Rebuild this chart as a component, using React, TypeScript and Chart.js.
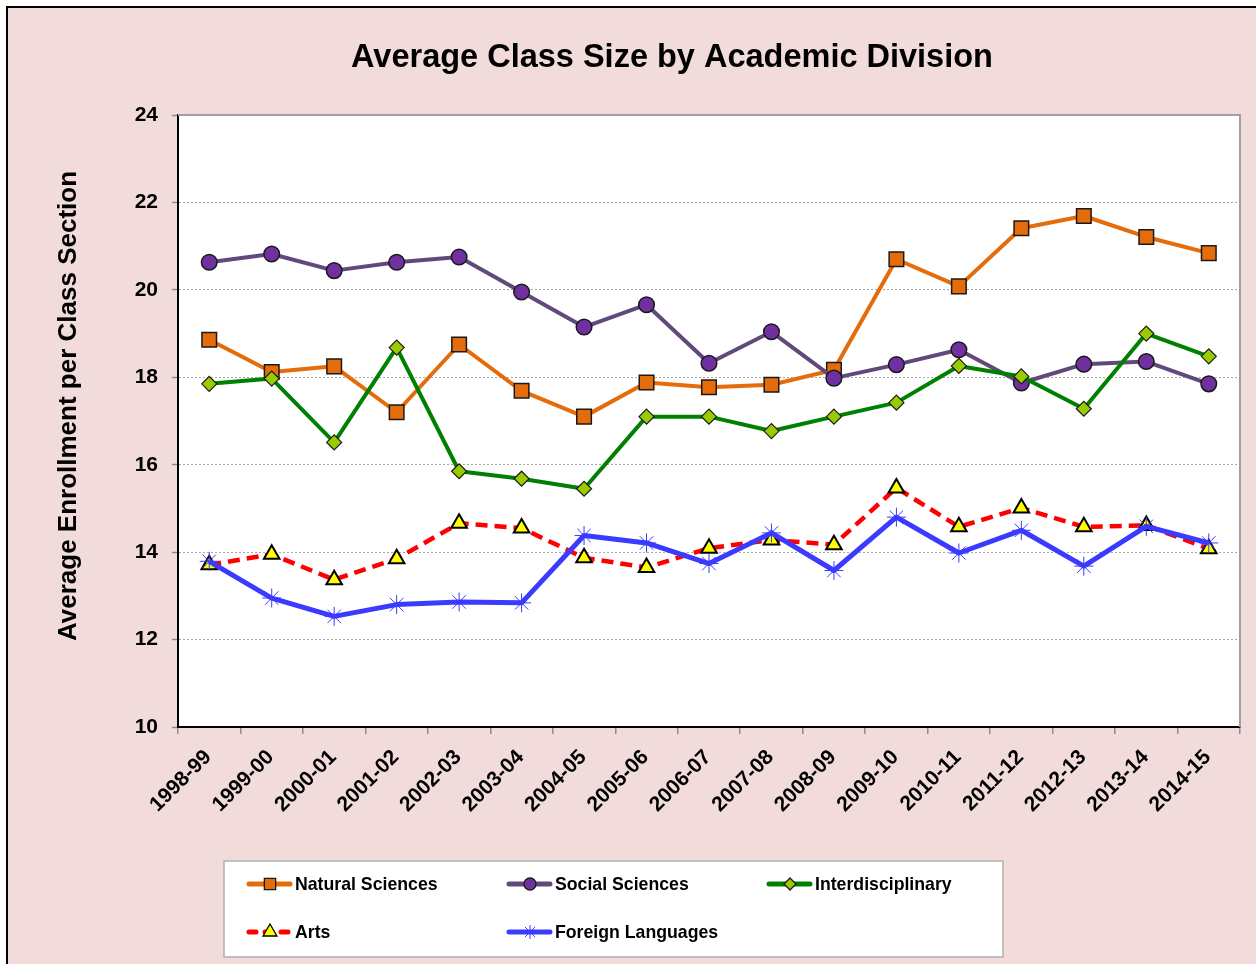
import React, { useEffect, useRef } from 'react';
import { Chart, registerables } from 'chart.js';

Chart.register(...registerables);

const categories = [
  '1998-99', '1999-00', '2000-01', '2001-02', '2002-03', '2003-04', '2004-05', '2005-06', '2006-07',
  '2007-08', '2008-09', '2009-10', '2010-11', '2011-12', '2012-13', '2013-14', '2014-15',
];

const naturalSciences = [18.86, 18.12, 18.25, 17.2, 18.75, 17.69, 17.1, 17.88, 17.77, 17.83, 18.17, 20.7, 20.08, 21.41, 21.69, 21.21, 20.84];
const socialSciences = [20.63, 20.82, 20.44, 20.63, 20.75, 19.95, 19.15, 19.66, 18.32, 19.04, 17.98, 18.29, 18.63, 17.87, 18.3, 18.36, 17.85];
const interdisciplinary = [17.85, 17.97, 16.51, 18.68, 15.85, 15.68, 15.45, 17.1, 17.1, 16.77, 17.1, 17.42, 18.26, 18.02, 17.28, 19.0, 18.48];
const arts = [13.71, 13.95, 13.37, 13.85, 14.66, 14.55, 13.87, 13.65, 14.09, 14.28, 14.17, 15.47, 14.58, 15.01, 14.58, 14.61, 14.08];
const foreignLanguages = [13.79, 12.95, 12.53, 12.8, 12.86, 12.84, 14.38, 14.21, 13.74, 14.44, 13.58, 14.8, 13.98, 14.5, 13.68, 14.59, 14.21];

const yMin = 10;
const yMax = 24;
const yStep = 2;

const titleText = 'Average Class Size by Academic Division';
const yAxisTitle = 'Average Enrollment per Class Section';

const FONT = "'Liberation Sans', Arial, Helvetica, sans-serif";

type Marker = 'rect' | 'circle' | 'rectRot' | 'triangle' | 'star';

function drawMarker(
  ctx: CanvasRenderingContext2D,
  style: Marker,
  x: number,
  y: number,
  r: number,
  fill: string,
  stroke: string,
  lw: number
) {
  ctx.save();
  ctx.beginPath();
  if (style === 'rect') {
    const s = r * Math.SQRT1_2;
    ctx.rect(x - s, y - s, 2 * s, 2 * s);
  } else if (style === 'circle') {
    ctx.arc(x, y, r, 0, Math.PI * 2);
  } else if (style === 'rectRot') {
    ctx.moveTo(x, y - r);
    ctx.lineTo(x + r, y);
    ctx.lineTo(x, y + r);
    ctx.lineTo(x - r, y);
    ctx.closePath();
  } else if (style === 'triangle') {
    ctx.moveTo(x, y - r);
    ctx.lineTo(x + r * 0.866, y + r / 2);
    ctx.lineTo(x - r * 0.866, y + r / 2);
    ctx.closePath();
  } else if (style === 'star') {
    ctx.moveTo(x - r, y);
    ctx.lineTo(x + r, y);
    ctx.moveTo(x, y - r);
    ctx.lineTo(x, y + r);
    const d = r * Math.SQRT1_2;
    ctx.moveTo(x - d, y - d);
    ctx.lineTo(x + d, y + d);
    ctx.moveTo(x - d, y + d);
    ctx.lineTo(x + d, y - d);
  }
  if (style !== 'star') {
    ctx.fillStyle = fill;
    ctx.fill();
  }
  ctx.lineWidth = lw;
  ctx.strokeStyle = stroke;
  ctx.stroke();
  ctx.restore();
}

const framePlugin = {
  id: 'framePlugin',
  beforeDraw(chart: any) {
    const { ctx, width, height, chartArea } = chart;
    ctx.save();
    ctx.fillStyle = '#ffffff';
    ctx.fillRect(0, 0, width, height);
    ctx.fillStyle = '#F2DCDB';
    ctx.fillRect(8, 8, width - 8, height - 8);
    ctx.fillStyle = '#000000';
    ctx.fillRect(6, 6, width - 6, 2);
    ctx.fillRect(6, 6, 2, height - 6);
    ctx.fillStyle = '#ffffff';
    ctx.fillRect(chartArea.left, chartArea.top, chartArea.right - chartArea.left, chartArea.bottom - chartArea.top);
    ctx.restore();
  },
  beforeDatasetsDraw(chart: any) {
    const { ctx, chartArea } = chart;
    ctx.save();
    ctx.strokeStyle = '#a0a0a0';
    ctx.lineWidth = 2;
    ctx.beginPath();
    ctx.moveTo(chartArea.left, chartArea.top);
    ctx.lineTo(chartArea.right, chartArea.top);
    ctx.lineTo(chartArea.right, chartArea.bottom);
    ctx.stroke();
    ctx.restore();
  },
  afterDraw(chart: any) {
    const { ctx } = chart;
    ctx.save();
    // Title
    ctx.fillStyle = '#000000';
    ctx.font = `bold 32.5px ${FONT}`;
    ctx.textAlign = 'center';
    ctx.textBaseline = 'alphabetic';
    ctx.fillText(titleText, 672, 67);
    // Y axis title
    ctx.save();
    ctx.translate(76, 406);
    ctx.rotate(-Math.PI / 2);
    ctx.font = `bold 26px ${FONT}`;
    ctx.textAlign = 'center';
    ctx.textBaseline = 'alphabetic';
    ctx.fillText(yAxisTitle, 0, 0);
    ctx.restore();

    // Legend box
    ctx.fillStyle = '#ffffff';
    ctx.fillRect(224, 861, 779, 96);
    ctx.strokeStyle = '#b0b0b0';
    ctx.lineWidth = 1.5;
    ctx.strokeRect(224, 861, 779, 96);

    const slots = [
      [247, 884],
      [507, 884],
      [767, 884],
      [247, 932],
      [507, 932],
    ];
    const legendSizes = [8, 6, 6, 8, 7];
    chart.data.datasets.forEach((ds: any, i: number) => {
      const [x, y] = slots[i];
      ctx.save();
      ctx.strokeStyle = ds.borderColor;
      ctx.lineWidth = 5;
      ctx.lineCap = 'round';
      if (ds.borderDash && ds.borderDash.length) {
        ctx.setLineDash([7, 9]);
      }
      ctx.beginPath();
      ctx.moveTo(x + 2, y);
      ctx.lineTo(x + 43, y);
      ctx.stroke();
      ctx.restore();
      drawMarker(
        ctx,
        ds.pointStyle,
        x + 23,
        y,
        legendSizes[i],
        ds.pointBackgroundColor,
        ds.pointBorderColor,
        ds.pointStyle === 'star' ? 1 : 1.3
      );
      ctx.fillStyle = '#000000';
      ctx.font = `bold 17.7px ${FONT}`;
      ctx.textAlign = 'left';
      ctx.textBaseline = 'middle';
      ctx.fillText(ds.label, x + 48, y + 1);
    });
    ctx.restore();
  },
};

export default function App() {
  const ref = useRef<HTMLCanvasElement>(null);

  useEffect(() => {
    if (!ref.current) return;
    const tickFont = { family: FONT, size: 21, weight: 'bold' as const };
    const chart = new Chart(ref.current, {
      type: 'line',
      data: {
        labels: categories,
        datasets: [
          {
            label: 'Natural Sciences',
            data: naturalSciences,
            borderColor: '#E46C0A',
            backgroundColor: '#E46C0A',
            borderWidth: 4,
            pointStyle: 'rect',
            pointRadius: 10.3,
            pointHoverRadius: 10.3,
            pointBackgroundColor: '#E46C0A',
            pointBorderColor: '#1a1a1a',
            pointBorderWidth: 1.5,
            order: 5,
          },
          {
            label: 'Social Sciences',
            data: socialSciences,
            borderColor: '#604A7B',
            backgroundColor: '#7030A0',
            borderWidth: 4,
            pointStyle: 'circle',
            pointRadius: 7.8,
            pointHoverRadius: 7.8,
            pointBackgroundColor: '#7030A0',
            pointBorderColor: '#1a1a1a',
            pointBorderWidth: 1.5,
            order: 4,
          },
          {
            label: 'Interdisciplinary',
            data: interdisciplinary,
            borderColor: '#008000',
            backgroundColor: '#99CC00',
            borderWidth: 4,
            pointStyle: 'rectRot',
            pointRadius: 7.5,
            pointHoverRadius: 7.5,
            pointBackgroundColor: '#99CC00',
            pointBorderColor: '#1a1a1a',
            pointBorderWidth: 1.2,
            order: 3,
          },
          {
            label: 'Arts',
            data: arts,
            borderColor: '#FF0000',
            backgroundColor: '#FFFF00',
            borderWidth: 4.5,
            borderDash: [12, 7],
            pointStyle: 'triangle',
            pointRadius: 9,
            pointHoverRadius: 9,
            pointBackgroundColor: '#FFFF00',
            pointBorderColor: '#000000',
            pointBorderWidth: 2,
            order: 2,
          },
          {
            label: 'Foreign Languages',
            data: foreignLanguages,
            borderColor: '#3B3BFF',
            backgroundColor: '#3B3BFF',
            borderWidth: 5,
            pointStyle: 'star',
            pointRadius: 9.5,
            pointHoverRadius: 9.5,
            pointBackgroundColor: '#3B3BFF',
            pointBorderColor: '#3B3BFF',
            pointBorderWidth: 1,
            order: 1,
          },
        ],
      },
      options: {
        responsive: false,
        animation: false,
        devicePixelRatio: 1,
        layout: { padding: { left: 0, top: 115, right: 16, bottom: 127 } },
        elements: { line: { tension: 0, borderJoinStyle: 'round', fill: false } },
        plugins: {
          legend: { display: false },
          title: { display: false },
          tooltip: { enabled: false },
        },
        scales: {
          x: {
            type: 'category',
            offset: true,
            grid: {
              offset: true,
              drawOnChartArea: false,
              drawTicks: true,
              tickLength: 7,
              color: '#8c8c8c',
              tickColor: '#8c8c8c',
              lineWidth: 1.5,
            },
            border: { display: true, color: '#000000', width: 2 },
            ticks: {
              autoSkip: false,
              maxRotation: 45,
              minRotation: 45,
              padding: 11,
              labelOffset: -1,
              color: '#000000',
              font: tickFont,
            },
            afterFit: (s: any) => {
              s.height = 110;
              s.paddingLeft = 0;
              s.paddingRight = 0;
            },
          },
          y: {
            min: yMin,
            max: yMax,
            ticks: {
              stepSize: yStep,
              padding: 14,
              color: '#000000',
              font: tickFont,
            },
            grid: {
              color: '#a8a8a8',
              tickColor: '#8c8c8c',
              tickLength: 6,
              lineWidth: 1,
              tickWidth: 1.5,
            },
            border: { display: true, color: '#000000', width: 2, dash: [2, 2] },
            afterFit: (s: any) => {
              s.width = 178;
              s.paddingTop = 0;
              s.paddingBottom = 0;
            },
          },
        },
      },
      plugins: [framePlugin],
    } as any);
    return () => chart.destroy();
  }, []);

  return (
    <div style={{ position: 'absolute', left: 0, top: 0, width: 1256, height: 964, overflow: 'hidden' }}>
      <canvas ref={ref} width={1256} height={964} style={{ display: 'block', width: 1256, height: 964 }} />
    </div>
  );
}
